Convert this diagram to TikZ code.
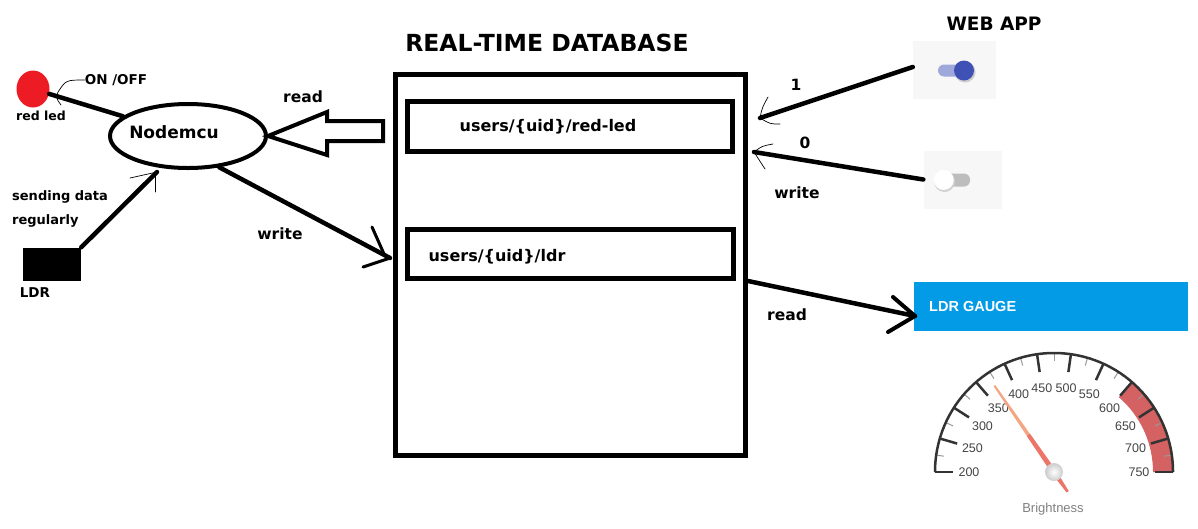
\documentclass[tikz,border=0pt]{standalone}
\usepackage{fontspec}
\setmainfont{DejaVu Sans}
\newfontfamily\handfont{DejaVu Sans}
\newfontfamily\webfont{Liberation Sans}
\usetikzlibrary{shapes.geometric,calc}
\definecolor{ledred}{HTML}{ED1C24}
\definecolor{panelgray}{HTML}{F7F7F7}
\definecolor{trackblue}{HTML}{9FA8DA}
\definecolor{knobblue}{HTML}{3F51B5}
\definecolor{trackgray}{HTML}{BDBDBD}
\definecolor{gaugeblue}{HTML}{039BE5}
\definecolor{gaugered}{HTML}{D46262}
\definecolor{gaugetick}{HTML}{333333}
\definecolor{gaugeminor}{HTML}{999999}
\definecolor{gaugetext}{HTML}{444444}
\definecolor{needlelight}{HTML}{F4A582}
\definecolor{needledark}{HTML}{EC7468}
\begin{document}
\begin{tikzpicture}
[x=1pt,y=-1pt,
  boxdecorate/.style={draw,line width=5pt,inner sep=0pt},
  linedecorate/.style={line width=4.5pt,line cap=round},
  pendecorate/.style={line width=0.7pt,line cap=round},
  handlabel/.style={font=\handfont\bfseries\fontsize{#1}{#1}\selectfont,inner sep=0pt},
  gaugelabel/.style={font=\webfont\fontsize{12.5}{12.5}\selectfont,text=gaugetext,inner sep=0pt}]
\useasboundingbox (0,0) rectangle (1198,528);
%% hardware side
\node (led) at (33,89) [ellipse,fill=ledred,minimum width=33pt,minimum height=37pt,inner sep=0pt] {};
\node at (41,116) [handlabel=12.5] {red led};
\node (onoff) at (116,80) [handlabel=13.5] {ON /OFF};
\node (nodemcu) at (188,136) [ellipse,draw,line width=4pt,minimum width=156pt,minimum height=64pt,inner sep=0pt] {};
\node at (174,132) [handlabel=17] {Nodemcu};
\node (ldr) at (52,264) [fill=black,minimum width=58pt,minimum height=33pt,inner sep=0pt] {};
\node at (35,293) [handlabel=13.5] {LDR};
\node at (12,197) [handlabel=13,anchor=west] {sending data};
\node at (12,221) [handlabel=13,anchor=west] {regularly};
%% database
\node at (547,43) [handlabel=23.5] {REAL-TIME DATABASE};
\node (db) at (570.5,265) [boxdecorate,minimum width=350pt,minimum height=381pt] {};
\node (redled) at (570,126.5) [boxdecorate,minimum width=325pt,minimum height=50pt] {};
\node at (548,127) [handlabel=16] {users/\{uid\}/red-led};
\node (ldrpath) at (570.5,254) [boxdecorate,minimum width=326pt,minimum height=49pt] {};
\node at (497,257) [handlabel=16] {users/\{uid\}/ldr};
%% web app
\node at (994,24) [handlabel=18.5] {WEB APP};
\node (switchon) at (954.5,70) [fill=panelgray,minimum width=83pt,minimum height=58pt,inner sep=0pt] {};
\fill[trackblue,rounded corners=6pt] (938,64.5) rectangle (973,76.5);
\fill[black!20] (965,72) circle (10.5);
\fill[knobblue] (964,70.5) circle (10);
\node (switchoff) at (962.5,179.5) [fill=panelgray,minimum width=78pt,minimum height=58pt,inner sep=0pt] {};
\fill[trackgray,rounded corners=6pt] (936,173.5) rectangle (970,186.5);
\fill[black!18] (944.5,181.5) circle (10.5);
\fill[white] (943.7,180) circle (10);
\node (gaugehead) at (1051,306.5) [fill=gaugeblue,minimum width=274pt,minimum height=49pt,inner sep=0pt] {};
\node at (929,306) [anchor=west,inner sep=0pt,font=\webfont\bfseries\fontsize{14.5}{14.5}\selectfont,text=white] {LDR GAUGE};
%% gauge
\coordinate (gc) at (1054,472);
\fill[gaugered] ($(gc)+(-49.09:119)$) arc[start angle=-49.09,end angle=0,radius=119]
  -- ($(gc)+(0:99)$) arc[start angle=0,end angle=-49.09,radius=99] -- cycle;
\foreach \v in {225,275,...,725}
  \draw[gaugeminor,line width=1pt] ($(gc)+({(\v-200)/550*180-180}:119)$) -- ($(gc)+({(\v-200)/550*180-180}:111)$);
\foreach \v in {200,250,...,750}
{
  \draw[gaugetick,line width=2.5pt] ($(gc)+({(\v-200)/550*180-180}:119)$) -- ($(gc)+({(\v-200)/550*180-180}:101)$);
  \node[gaugelabel] at ($(gc)+({(\v-200)/550*180-180}:85)$) {\v};
}
\draw[gaugetick,line width=2.5pt] ($(gc)+(-180:119)$) arc[start angle=-180,end angle=0,radius=119];
\begin{scope}[shift={(gc)},rotate=124.6]
  \fill[needlelight] (0,-2.5) -- (105,-1) -- (105,1) -- (0,2.5) -- (-24,1.2) -- (-24,-1.2) -- cycle;
  \fill[needledark] (0,-2.5) -- (45,-1.9) -- (45,1.9) -- (0,2.5) -- (-24,1.2) -- (-24,-1.2) -- cycle;
\end{scope}
\shade[inner color=white,outer color=black!20] (gc) circle (9);
\node at (1053,509) [font=\webfont\fontsize{13}{13}\selectfont,text=gray] {Brightness};
%% connectors
\coordinate (ldrtip) at (157,172);
\coordinate (writetip) at (390,258);
\coordinate (onetip) at (760,118);
\coordinate (zerotip) at (754,152);
\coordinate (readtip) at (915,316);
\draw[linedecorate] (led) -- (nodemcu);
\draw[pendecorate] (onoff.west) .. controls (66,80) .. (58,92) .. controls (56,98) .. (61,105);
\draw[linedecorate] (ldr.north east) -- (ldrtip);
\draw[pendecorate] ($(ldrtip)+(-27,6)$) -- (ldrtip);
\draw[pendecorate] ($(ldrtip)+(-2,1)$) -- ++(0,19);
\draw[line width=4pt,line join=miter] (nodemcu.east) -- ++(59,-24) -- ++(0,9) -- ++(56,0)
  -- ++(0,20) -- ++(-56,0) -- ++(0,14) -- cycle;
\node at (303,97) [handlabel=15.5] {read};
\draw[linedecorate] (nodemcu.-45) -- (writetip);
\draw[line width=3pt,line cap=round] ($(writetip)+(-18,-31)$) -- ++(12,27);
\draw[line width=3pt,line cap=round] (writetip) -- ++(-27,9);
\node at (280,234) [handlabel=15.5] {write};
\draw[linedecorate] ([yshift=3pt]switchon.west) -- (onetip);
\draw[pendecorate] ($(onetip)+(8,-21)$) .. controls ($(onetip)+(2,-10)$) .. (onetip) .. controls ($(onetip)+(10,6)$) .. ($(onetip)+(20,6)$);
\node at (796,85) [handlabel=15.5] {1};
\draw[linedecorate] (switchoff.west) -- (zerotip);
\draw[pendecorate] ($(zerotip)+(19,-8)$) .. controls ($(zerotip)+(8,-6)$) .. (zerotip) .. controls ($(zerotip)+(6,8)$) .. ($(zerotip)+(11,17)$);
\node at (805,143) [handlabel=15.5] {0};
\node at (797,193) [handlabel=15.5] {write};
\draw[linedecorate] (ldrpath.south -| db.east) -- (readtip);
\draw[line width=4pt,line cap=round,line join=round] ($(readtip)+(-22,-19)$) -- (readtip) -- ($(readtip)+(-27,16)$);
\node at (787,315) [handlabel=15.5] {read};
\end{tikzpicture}
\end{document}
